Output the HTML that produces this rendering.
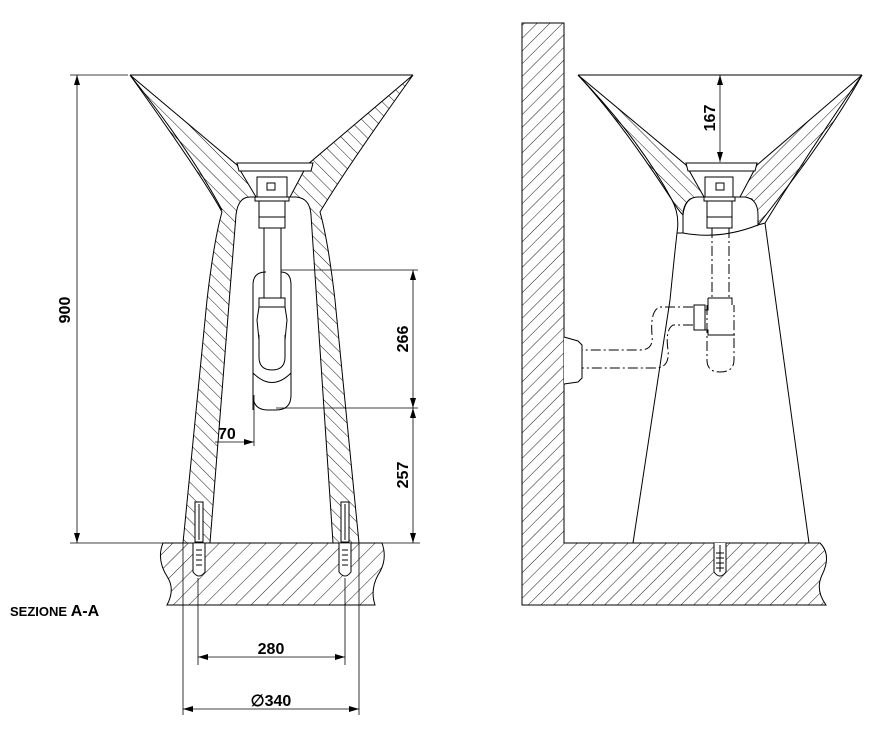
<!DOCTYPE html>
<html><head><meta charset="utf-8"><style>
html,body{margin:0;padding:0;background:#fff;}
svg{display:block;}
text{font-family:"Liberation Sans",sans-serif;font-weight:bold;fill:#000;}
</style></head><body>
<svg width="887" height="732" viewBox="0 0 887 732" xmlns="http://www.w3.org/2000/svg">
<defs>
<pattern id="hb" patternUnits="userSpaceOnUse" width="9" height="9" patternTransform="rotate(-45)">
<line x1="0" y1="0" x2="0" y2="9" stroke="#000" stroke-width="0.9"/></pattern>
<pattern id="hf" patternUnits="userSpaceOnUse" width="11" height="11" patternTransform="rotate(45)">
<line x1="0" y1="0" x2="0" y2="11" stroke="#000" stroke-width="0.9"/></pattern>
<pattern id="hw" patternUnits="userSpaceOnUse" width="9" height="9" patternTransform="rotate(45)">
<line x1="0" y1="0" x2="0" y2="9" stroke="#000" stroke-width="0.9"/></pattern>
<marker id="ar" viewBox="0 0 10 6" refX="10" refY="3" markerWidth="10" markerHeight="6" orient="auto-start-reverse" markerUnits="userSpaceOnUse">
<path d="M0,0 L10,3 L0,6 z" fill="#000"/></marker>
</defs>
<g fill="none" stroke="#000" stroke-width="1">

<!-- LEFT VIEW -->
<path d="M130,75 L237,165 L256,197 L243,199 Q238,205 236,215 L210,543 L183,543 L207,300 Q214,240 222,212 Q205,180 130,75 Z" fill="url(#hb)"/>
<path d="M413,75 L307,165 L290,197 L303,199 Q309,205 311,215 L333,543 L359,543 L335,300 Q328,240 320,212 Q345,170 413,75 Z" fill="url(#hb)"/>
<path d="M130,75 Q190,150 222,210" />
<line x1="130" y1="75" x2="413" y2="75"/>
<path d="M236,215 Q238,197 250,197 L296,197 Q310,198 311,215" fill="#fff"/>
<path d="M237,163 L313,163 L311,171 L239,171 Z" fill="#fff"/>
<rect x="257" y="177" width="30" height="20" fill="#fff"/>
<rect x="267" y="183" width="8" height="7"/>
<rect x="255" y="197" width="34" height="4" fill="#fff"/>
<rect x="259" y="201" width="26" height="27" fill="#fff"/>
<line x1="259" y1="217" x2="285" y2="217"/>
<rect x="264" y="228" width="17" height="70"/>
<path d="M253,410 L253,285 Q253,272 266,272 L264,272 M281,272 Q291,272 291,285 L291,395 Q291,410 276,410 L268,410 Q253,410 253,395"/>
<rect x="259" y="298" width="26" height="9"/>
<path d="M259,307 L257,320 L259,340 M285,307 L287,320 L285,340"/>
<path d="M259,335 L259,357 Q259,370 272,370 Q285,370 285,357 L285,335"/>
<path d="M253,373 Q272,392 291,373"/>
<rect x="195" y="502" width="8" height="40" fill="#fff"/>
<rect x="341" y="502" width="8" height="40" fill="#fff"/>
<line x1="199" y1="504" x2="199" y2="540"/>
<line x1="345" y1="504" x2="345" y2="540"/>
<path d="M163,543 L382,543 Q388,560 378,575 Q370,590 375,605 L167,605 Q175,590 168,578 Q156,560 163,543 Z" fill="url(#hf)"/>
<path d="M193,543 L193,572 Q199,580 205,572 L205,543" fill="#fff"/>
<line x1="196" y1="550" x2="202" y2="550"/><line x1="196" y1="555" x2="202" y2="555"/><line x1="196" y1="560" x2="202" y2="560"/><line x1="196" y1="565" x2="202" y2="565"/>
<path d="M339,543 L339,572 Q345,580 351,572 L351,543" fill="#fff"/>
<line x1="342" y1="550" x2="348" y2="550"/><line x1="342" y1="555" x2="348" y2="555"/><line x1="342" y1="560" x2="348" y2="560"/><line x1="342" y1="565" x2="348" y2="565"/>

<!-- dimensions left -->
<line x1="70" y1="75" x2="128" y2="75" stroke-width="0.8"/>
<line x1="70" y1="543" x2="420" y2="543" stroke-width="0.8"/>
<line x1="77" y1="75" x2="77" y2="543" marker-start="url(#ar)" marker-end="url(#ar)" stroke-width="0.8"/>
<line x1="281" y1="270" x2="418" y2="270" stroke-width="0.8"/>
<line x1="276" y1="408" x2="418" y2="408" stroke-width="0.8"/>
<line x1="413" y1="270" x2="413" y2="408" marker-start="url(#ar)" marker-end="url(#ar)" stroke-width="0.8"/>
<line x1="413" y1="408" x2="413" y2="543" marker-start="url(#ar)" marker-end="url(#ar)" stroke-width="0.8"/>
<line x1="254" y1="395" x2="254" y2="446" stroke-width="0.8"/>
<line x1="215" y1="442" x2="254" y2="442" marker-end="url(#ar)" stroke-width="0.8"/>
<line x1="198" y1="578" x2="198" y2="665" stroke-width="0.8"/>
<line x1="345" y1="578" x2="345" y2="665" stroke-width="0.8"/>
<line x1="198" y1="657" x2="345" y2="657" marker-start="url(#ar)" marker-end="url(#ar)" stroke-width="0.8"/>
<line x1="183" y1="543" x2="183" y2="715" stroke-width="0.8"/>
<line x1="359" y1="543" x2="359" y2="715" stroke-width="0.8"/>
<line x1="183" y1="709" x2="359" y2="709" marker-start="url(#ar)" marker-end="url(#ar)" stroke-width="0.8"/>

<!-- RIGHT VIEW -->
<path d="M564,23 L522,23 L522,605 L826,605 Q815,590 822,575 Q832,555 820,543 L564,543 Z" fill="url(#hw)"/>
<line x1="578" y1="75" x2="862" y2="75"/>
<path d="M578,75 L686,165 L704,197 L690,199 Q683,205 683,215 Q678,210 672,200 Q620,120 578,75 Z" fill="url(#hb)"/>
<path d="M578,75 Q640,140 672,200 Q680,215 677,233"/>
<path d="M862,75 L757,165 L740,197 L752,199 Q759,210 758,225 Q770,210 800,170 Q840,115 862,75 Z" fill="url(#hw)"/>
<path d="M862,75 Q810,150 765,223"/>
<path d="M683,215 Q685,197 698,197 L745,197 Q758,199 758,215 L758,225 Q720,240 683,233 Z" fill="#fff"/>
<path d="M677,233 Q675,250 670,300 L633,543"/>
<path d="M765,223 L809,543"/>
<line x1="677" y1="233" x2="683" y2="233"/>
<line x1="758" y1="225" x2="765" y2="223"/>
<path d="M686,163 L757,163 L755,171 L688,171 Z" fill="#fff"/>
<rect x="705" y="177" width="28" height="20" fill="#fff"/>
<rect x="716" y="183" width="8" height="7"/>
<rect x="704" y="197" width="31" height="4" fill="#fff"/>
<rect x="707" y="201" width="25" height="27" fill="#fff"/>
<line x1="707" y1="217" x2="732" y2="217"/>
<g stroke-dasharray="10,3,2,3">
<line x1="712" y1="228" x2="712" y2="298"/>
<line x1="729" y1="228" x2="729" y2="298"/>
<path d="M707,305 L707,360 Q707,372 720,372 Q734,372 734,360 L734,305"/>
<path d="M693,307 L660,307 Q650,310 652,335 Q654,350 640,350 L582,350"/>
<path d="M693,325 L673,325 Q665,330 668,350 Q670,368 655,368 L582,368"/>
</g>
<path d="M708,298 L732,298 L732,305 M708,298 L708,310 L705,310 L705,330 L708,330 L708,335 L735,335"/>
<rect x="694" y="305" width="11" height="25"/>
<path d="M564,337 L578,341 L582,345 L582,378 L578,382 L564,384" fill="#fff"/>
<path d="M714,543 L714,572 Q720,580 726,572 L726,543" fill="#fff"/>
<line x1="720" y1="545" x2="720" y2="572"/>
<line x1="716" y1="553" x2="724" y2="553"/><line x1="716" y1="558" x2="724" y2="558"/><line x1="716" y1="563" x2="724" y2="563"/><line x1="716" y1="568" x2="724" y2="568"/>
<line x1="720" y1="75" x2="720" y2="162" marker-start="url(#ar)" marker-end="url(#ar)" stroke-width="0.8"/>
</g>

<text x="0" y="0" font-size="16" transform="translate(70,310) rotate(-90)" text-anchor="middle">900</text>
<text x="0" y="0" font-size="16" transform="translate(408,339) rotate(-90)" text-anchor="middle">266</text>
<text x="0" y="0" font-size="16" transform="translate(408,475) rotate(-90)" text-anchor="middle">257</text>
<text x="0" y="0" font-size="16" transform="translate(715,118) rotate(-90)" text-anchor="middle">167</text>
<text x="218" y="439" font-size="16">70</text>
<text x="271" y="654" font-size="16" text-anchor="middle">280</text>
<text x="271" y="706" font-size="16" text-anchor="middle">∅340</text>
<text x="10" y="616" font-size="13">SEZIONE  <tspan font-size="16">A-A</tspan></text>
</svg>
</body></html>
